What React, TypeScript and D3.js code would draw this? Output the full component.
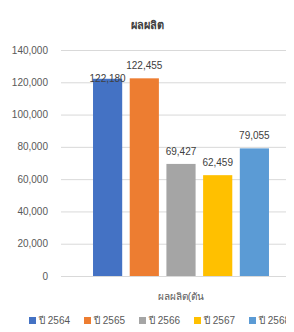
import React, { useEffect, useRef } from "react";
import * as d3 from "d3";

const title = "ผลผลิต";
const category = "ผลผลิต(ตัน";
const seriesNames = ["ปี 2564", "ปี 2565", "ปี 2566", "ปี 2567", "ปี 2568"];
const seriesValues = [122180, 122455, 69427, 62459, 79055];
const seriesColors = ["#4472C4", "#ED7D31", "#A5A5A5", "#FFC000", "#5B9BD5"];
const yTicks = [0, 20000, 40000, 60000, 80000, 100000, 120000, 140000];

export default function App() {
  const svgRef = useRef<SVGSVGElement>(null);

  useEffect(() => {
    if (!svgRef.current) return;
    const width = 294;
    const height = 332;
    const margin = { top: 50, right: 0, bottom: 56, left: 61 };
    const innerWidth = width - margin.left - margin.right;
    const innerHeight = height - margin.top - margin.bottom;
    const font = "Liberation Sans, Noto Sans, sans-serif";

    const svg = d3.select(svgRef.current);
    svg.selectAll("*").remove();
    svg.append("rect").attr("width", width).attr("height", height).attr("fill", "#fff");

    svg.append("text")
      .attr("x", 147).attr("y", 29)
      .attr("text-anchor", "middle")
      .style("font-family", font).style("font-size", "11px").style("font-weight", "bold")
      .style("fill", "#404040")
      .text(title);

    const g = svg.append("g").attr("transform", `translate(${margin.left},${margin.top})`);

    const y = d3.scaleLinear().domain([0, 140000]).range([innerHeight, 0]);
    // plot area runs a little past the right edge of the picture
    const x0 = d3.scaleBand().domain([category]).range([0, 240]).paddingOuter(0.182);
    const x1 = d3.scaleBand().domain(seriesNames).range([0, x0.bandwidth()]).paddingInner(0.205);

    g.selectAll(".grid")
      .data(yTicks)
      .enter().append("line")
      .attr("x1", 0).attr("x2", innerWidth)
      .attr("y1", d => y(d) + 0.5).attr("y2", d => y(d) + 0.5)
      .attr("stroke", "#d9d9d9").attr("stroke-width", 1);

    g.selectAll(".ytick")
      .data(yTicks)
      .enter().append("text")
      .attr("x", -13).attr("y", d => y(d))
      .attr("dy", "0.35em")
      .attr("text-anchor", "end")
      .style("font-family", font).style("font-size", "10px").style("fill", "#595959")
      .text(d => d3.format(",")(d));

    const bx = (i: number) => (x0(category) as number) + (x1(seriesNames[i]) as number);
    const labelShift = [12, 0, 0, 0, 0];

    g.selectAll(".bar")
      .data(seriesValues)
      .enter().append("rect")
      .attr("x", (_, i) => bx(i))
      .attr("y", d => y(d))
      .attr("width", x1.bandwidth())
      .attr("height", d => innerHeight - y(d))
      .attr("fill", (_, i) => seriesColors[i]);

    g.selectAll(".lbl")
      .data(seriesValues)
      .enter().append("text")
      .attr("x", (_, i) => bx(i) + x1.bandwidth() / 2)
      .attr("y", (d, i) => y(d) - 9 + labelShift[i])
      .attr("text-anchor", "middle")
      .style("font-family", font).style("font-size", "10px").style("fill", "#404040")
      .text(d => d3.format(",")(d));

    g.append("text")
      .attr("x", (x0(category) as number) + x0.bandwidth() / 2)
      .attr("y", innerHeight + 24)
      .attr("text-anchor", "middle")
      .style("font-family", font).style("font-size", "10px").style("fill", "#595959")
      .text(category);

    const legend = svg.append("g").attr("transform", "translate(29,320)");
    seriesNames.forEach((name, i) => {
      const item = legend.append("g").attr("transform", `translate(${i * 55},0)`);
      item.append("rect").attr("x", 0).attr("y", -3).attr("width", 7).attr("height", 7).attr("fill", seriesColors[i]);
      item.append("text")
        .attr("x", 10).attr("y", 0).attr("dy", "0.35em")
        .style("font-family", font).style("font-size", "10px").style("fill", "#595959")
        .text(name);
    });
  }, []);

  return (
    <div style={{ margin: -8, width: 294, height: 332 }}>
      <svg ref={svgRef} width={294} height={332} style={{ display: "block" }} />
    </div>
  );
}
